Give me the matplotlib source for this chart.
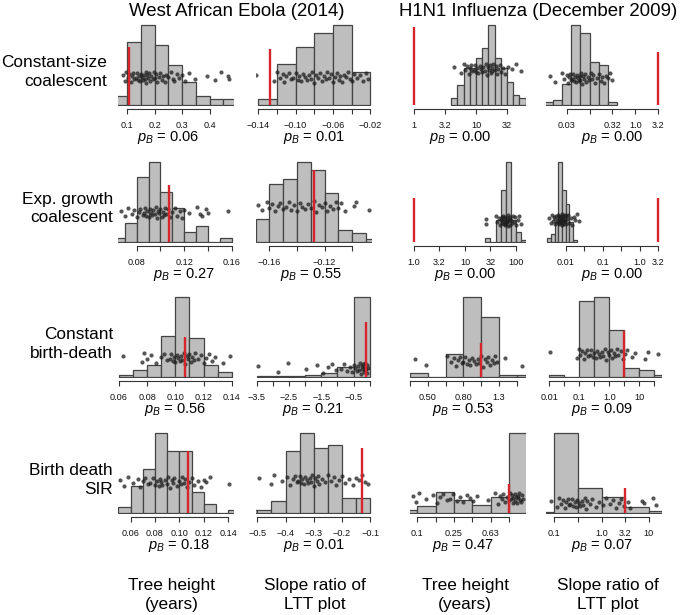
import numpy as np
import matplotlib.pyplot as plt

plt.rcParams['font.family'] = ['Liberation Sans', 'DejaVu Sans']
plt.rcParams['mathtext.fontset'] = 'custom'
plt.rcParams['mathtext.it'] = 'Liberation Sans:italic'
plt.rcParams['mathtext.rm'] = 'Liberation Sans'

datasets = ['West African Ebola (2014)', 'H1N1 Influenza (December 2009)']
models = ['Constant-size\ncoalescent', 'Exp. growth\ncoalescent', 'Constant\nbirth-death', 'Birth death\nSIR']
stats = ['Tree height\n(years)', 'Slope ratio of\nLTT plot', 'Tree height\n(years)', 'Slope ratio of\nLTT plot']

# observed values (columns 3 and 4 are log10)
observed = [0.107, -0.128, 0.0, 0.5]

p_values = [0.06, 0.01, 0.00, 0.00,
            0.27, 0.55, 0.00, 0.00,
            0.56, 0.21, 0.53, 0.09,
            0.18, 0.01, 0.47, 0.07]

# histogram of simulated statistics: first bin edge, bin width, counts
bin_start = [0.05, -0.14, 0.6, -2.0,
             0.06, -0.17, 1.4, -2.5,
             0.06, -3.5, -0.4, -2.0,
             0.05, -0.55, -1.2, -1.5]
bin_width = [0.05, 0.02, 0.1, 0.2,
             0.01, 0.01, 0.1, 0.1,
             0.01, 0.5, 0.1, 0.5,
             0.01, 0.05, 0.2, 0.5]
counts = [[3, 22, 28, 21, 14, 8, 3, 2, 2],
          [2, 15, 21, 26, 29, 12],
          [2, 6, 11, 11, 14, 17, 24, 14, 11, 7, 3, 2],
          [1, 2, 8, 30, 27, 16, 15, 1],
          [1, 6, 21, 26, 16, 11, 3, 5, 0, 1],
          [8, 20, 22, 28, 25, 17, 4, 3, 1],
          [2, 0, 11, 26, 40, 11, 5, 1],
          [2, 4, 10, 40, 26, 19, 10, 1],
          [1, 3, 5, 17, 33, 16, 5, 2],
          [1, 1, 1, 2, 4, 10, 84],
          [2, 0, 13, 45, 34, 1, 1],
          [1, 0, 34, 36, 21, 4, 3, 1],
          [2, 9, 15, 27, 21, 21, 7, 3, 0, 1],
          [1, 1, 4, 20, 26, 21, 22, 5, 5],
          [2, 5, 16, 10, 6, 12, 60],
          [1, 70, 22, 14, 5, 2]]

# simulated values shown as dots
sim_points = [
    [0.085, 0.09, 0.095, 0.102, 0.108, 0.112, 0.118, 0.12, 0.125, 0.13, 0.135, 0.138, 0.142, 0.146, 0.15,
     0.153, 0.157, 0.16, 0.163, 0.167, 0.17, 0.173, 0.176, 0.18, 0.184, 0.188, 0.192, 0.196, 0.2, 0.205,
     0.21, 0.215, 0.22, 0.225, 0.23, 0.236, 0.242, 0.25, 0.258, 0.265, 0.272, 0.28, 0.29, 0.3, 0.312,
     0.325, 0.345, 0.39, 0.42, 0.44, 0.47, 0.468],
    [-0.142, -0.123, -0.12, -0.117, -0.114, -0.112, -0.11, -0.107, -0.105, -0.103, -0.1, -0.098, -0.096,
     -0.094, -0.092, -0.09, -0.088, -0.086, -0.084, -0.082, -0.08, -0.078, -0.076, -0.074, -0.072, -0.07,
     -0.068, -0.066, -0.064, -0.062, -0.06, -0.058, -0.056, -0.054, -0.052, -0.05, -0.048, -0.046, -0.044,
     -0.042, -0.04, -0.037, -0.034, -0.031, -0.028, -0.025, -0.022],
    [0.65, 0.75, 0.8, 0.83, 0.86, 0.88, 0.9, 0.92, 0.94, 0.96, 0.98, 1.0, 1.02, 1.04, 1.06, 1.08, 1.1, 1.12,
     1.14, 1.16, 1.18, 1.2, 1.21, 1.22, 1.24, 1.25, 1.26, 1.28, 1.3, 1.32, 1.34, 1.36, 1.38, 1.4, 1.43,
     1.47, 1.52, 1.58, 1.64, 1.73],
    [-1.86, -1.75, -1.6, -1.55, -1.5, -1.47, -1.44, -1.42, -1.4, -1.38, -1.36, -1.34, -1.32, -1.3, -1.28,
     -1.26, -1.24, -1.22, -1.2, -1.18, -1.16, -1.14, -1.12, -1.1, -1.07, -1.04, -1.01, -0.98, -0.95, -0.92,
     -0.88, -0.84, -0.8, -0.76, -0.72, -0.68, -0.64, -0.6, -0.56, -0.5],
    [0.067, 0.07, 0.073, 0.076, 0.078, 0.08, 0.082, 0.083, 0.085, 0.086, 0.087, 0.088, 0.089, 0.09, 0.091,
     0.092, 0.093, 0.094, 0.095, 0.096, 0.097, 0.098, 0.099, 0.1, 0.101, 0.102, 0.103, 0.104, 0.105, 0.106,
     0.108, 0.11, 0.112, 0.114, 0.116, 0.118, 0.12, 0.124, 0.131, 0.133, 0.135, 0.138, 0.14, 0.157],
    [-0.168, -0.165, -0.162, -0.16, -0.158, -0.156, -0.154, -0.152, -0.15, -0.148, -0.146, -0.144, -0.142,
     -0.14, -0.138, -0.136, -0.134, -0.132, -0.13, -0.128, -0.126, -0.124, -0.122, -0.12, -0.118, -0.116,
     -0.114, -0.112, -0.11, -0.108, -0.105, -0.099, -0.097, -0.088],
    [1.41, 1.42, 1.6, 1.63, 1.66, 1.68, 1.7, 1.72, 1.73, 1.74, 1.75, 1.76, 1.77, 1.78, 1.79, 1.8, 1.81, 1.82,
     1.83, 1.84, 1.85, 1.86, 1.87, 1.88, 1.89, 1.9, 1.92, 1.94, 1.96, 1.98, 2.0, 2.03, 2.06, 2.1],
    [-2.45, -2.4, -2.37, -2.34, -2.32, -2.3, -2.28, -2.26, -2.24, -2.22, -2.2, -2.19, -2.18, -2.17, -2.16,
     -2.15, -2.14, -2.13, -2.12, -2.11, -2.1, -2.09, -2.08, -2.07, -2.06, -2.05, -2.04, -2.03, -2.02, -2.0,
     -1.98, -1.96, -1.93, -1.9, -1.86, -1.82, -1.78, -1.74, -1.7, -1.64],
    [0.0626, 0.076, 0.078, 0.08, 0.083, 0.086, 0.09, 0.092, 0.094, 0.096, 0.097, 0.098, 0.099, 0.1, 0.101,
     0.102, 0.103, 0.104, 0.105, 0.106, 0.107, 0.108, 0.109, 0.11, 0.111, 0.112, 0.113, 0.114, 0.116,
     0.118, 0.12, 0.122, 0.124, 0.126, 0.128, 0.134, 0.139],
    [-3.45, -2.85, -2.53, -1.98, -1.63, -1.45, -1.3, -1.16, -1.03, -0.9, -0.8, -0.7, -0.6, -0.55, -0.5,
     -0.45, -0.4, -0.36, -0.33, -0.3, -0.27, -0.25, -0.23, -0.21, -0.19, -0.17, -0.15, -0.13, -0.11,
     -0.09, -0.07, -0.05],
    [-0.37, -0.31, -0.19, -0.17, -0.15, -0.14, -0.13, -0.12, -0.11, -0.1, -0.09, -0.08, -0.07, -0.06, -0.05,
     -0.04, -0.03, -0.02, -0.01, 0.0, 0.01, 0.02, 0.03, 0.04, 0.05, 0.06, 0.07, 0.08, 0.09, 0.135, 0.228],
    [-1.96, -1.08, -1.02, -0.96, -0.9, -0.85, -0.8, -0.75, -0.7, -0.65, -0.6, -0.55, -0.5, -0.45, -0.4,
     -0.35, -0.3, -0.25, -0.2, -0.15, -0.1, -0.05, 0.0, 0.05, 0.1, 0.15, 0.2, 0.25, 0.3, 0.38, 0.45, 0.52,
     0.58, 0.75, 0.86, 1.19, 1.3, 1.63],
    [0.051, 0.055, 0.058, 0.062, 0.066, 0.068, 0.07, 0.072, 0.074, 0.076, 0.078, 0.08, 0.082, 0.083, 0.084,
     0.085, 0.086, 0.088, 0.09, 0.091, 0.092, 0.094, 0.095, 0.096, 0.098, 0.1, 0.101, 0.102, 0.104, 0.105,
     0.106, 0.108, 0.11, 0.112, 0.115, 0.118, 0.12, 0.122, 0.125, 0.141],
    [-0.493, -0.45, -0.44, -0.413, -0.395, -0.385, -0.375, -0.368, -0.36, -0.355, -0.35, -0.345, -0.34,
     -0.335, -0.33, -0.325, -0.32, -0.315, -0.31, -0.305, -0.3, -0.295, -0.29, -0.285, -0.28, -0.27, -0.26,
     -0.25, -0.24, -0.23, -0.22, -0.21, -0.2, -0.19, -0.175, -0.16, -0.15, -0.14, -0.13, -0.12, -0.107],
    [-1.043, -1.014, -0.978, -0.905, -0.825, -0.782, -0.752, -0.716, -0.68, -0.643, -0.607, -0.571, -0.534,
     -0.498, -0.462, -0.425, -0.389, -0.345, -0.226, -0.153, -0.116, -0.098, -0.08, -0.062, -0.04, -0.025,
     0.0, 0.011, 0.02, 0.029, 0.04, 0.047, 0.06, 0.065, 0.08, 0.084, 0.1, 0.102, 0.11, 0.12, 0.13, 0.138,
     0.156],
    [-1.076, -0.95, -0.9, -0.86, -0.82, -0.78, -0.75, -0.72, -0.69, -0.66, -0.63, -0.6, -0.57, -0.54, -0.51,
     -0.48, -0.45, -0.42, -0.39, -0.36, -0.33, -0.3, -0.25, -0.2, -0.12, -0.05, 0.02, 0.1, 0.17, 0.24, 0.3,
     0.36, 0.42, 0.48, 0.55, 0.6, 0.85, 0.9, 1.09, 1.16],
]

# dot jitter (fraction of spread)
jitter = [0.3, -0.7, 0.9, -0.2, 0.5, -0.9, 0.1, 0.7, -0.4, -0.1, 0.8, -0.6, 0.2, -0.8, 0.6, 0.0, -0.5,
          0.4, -0.3, 1.0, -1.0, 0.35, -0.15, 0.65, -0.75, 0.15, -0.45, 0.85, -0.25, 0.55, -0.85, 0.05,
          0.75, -0.55, 0.25, -0.95, 0.45, -0.05, 0.95, -0.35, -0.65, 0.6, -0.1, 0.3, -0.8, 0.7, -0.4,
          0.1, -0.6, 0.9, -0.3, 0.2, -0.9, 0.5, 0.0, -0.7, 0.8, -0.2, 0.4, -0.5]

ticks = [[0.1, 0.2, 0.3, 0.4],
         [-0.14, -0.12, -0.10, -0.08, -0.06, -0.04, -0.02],
         [0, 0.5, 1, 1.5],
         [-1.5, -1, -0.5, 0, 0.5],
         [0.08, 0.10, 0.12, 0.14, 0.16],
         [-0.16, -0.14, -0.12, -0.10],
         [0, 0.5, 1, 1.5, 2],
         [-2, -1.5, -1, -0.5, 0, 0.5],
         [0.06, 0.08, 0.10, 0.12, 0.14],
         [-3.5, -3, -2.5, -2, -1.5, -1, -0.5, 0],
         [-0.4, -0.3, -0.2, -0.1, 0, 0.1, 0.2],
         [-2, -1.5, -1, -0.5, 0, 0.5, 1, 1.5],
         [0.06, 0.08, 0.10, 0.12, 0.14],
         [-0.5, -0.4, -0.3, -0.2, -0.1],
         [-1, -0.8, -0.6, -0.4, -0.2, 0],
         [-1, -0.5, 0, 0.5, 1]]
tick_labels = [['0.1', '0.2', '0.3', '0.4'],
               ['\u22120.14', '', '\u22120.10', '', '\u22120.06', '', '\u22120.02'],
               ['1', '3.2', '10', '32'],
               ['0.03', '', '0.32', '1.0', '3.2'],
               ['0.08', '', '0.12', '', '0.16'],
               ['\u22120.16', '', '\u22120.12', ''],
               ['1.0', '3.2', '10', '32', '100'],
               ['0.01', '', '0.1', '', '1.0', '3.2'],
               ['0.06', '0.08', '0.10', '0.12', '0.14'],
               ['\u22123.5', '', '\u22122.5', '', '\u22121.5', '', '\u22120.5', ''],
               ['', '0.50', '', '0.80', '', '1.3', ''],
               ['0.01', '', '0.1', '', '1.0', '', '10', ''],
               ['0.06', '0.08', '0.10', '0.12', '0.14'],
               ['\u22120.5', '\u22120.4', '\u22120.3', '\u22120.2', '\u22120.1'],
               ['0.1', '', '0.25', '', '0.63', ''],
               ['0.1', '', '1.0', '3.2', '10']]

# layout (pixels)
xlims = [(0.0661, 0.489), (-0.1425, -0.0182), (-0.0645, 1.806), (-1.952, 0.581),
         (0.0643, 0.1618), (-0.1697, -0.0856), (-0.078, 2.196), (-2.532, 0.600),
         (0.0593, 0.1416), (-3.522, 0.072), (-0.393, 0.252), (-2.11, 1.757),
         (0.0497, 0.1448), (-0.5046, -0.0939), (-1.08, 0.185), (-1.175, 1.277)]
col_left = [118, 256, 410, 546]
row_base = [105, 241.5, 377, 513]
dot_level = [28, 28, 36, 27, 29, 35, 21, 22, 19, 9, 16, 23, 31, 33, 15, 10]
red_height = [58, 56, 78, 53, 57, 72, 44, 44, 40, 55, 34, 46, 62, 65, 29, 25]
W, H = 680, 615
PW, PH = 116, 80

fig = plt.figure(figsize=(W / 100, H / 100), dpi=100)

for k in range(16):
    r, c = divmod(k, 4)
    base = row_base[r]
    ax = fig.add_axes([col_left[c] / W, (H - base - 1) / H, PW / W, (PH + 2) / H])
    cnt = counts[k]
    s = max(cnt) / PH
    edges = [bin_start[k] + i * bin_width[k] for i in range(len(cnt))]
    ax.bar(edges, cnt, width=bin_width[k], align='edge', color='#bebebe',
           edgecolor='#444444', linewidth=0.9, zorder=1)
    pts = sim_points[k]
    jy = [dot_level[k] * s + 5.5 * s * jitter[i % len(jitter)] for i in range(len(pts))]
    ax.scatter(pts, jy, s=9, color='#1e1e1e', alpha=0.75, linewidths=0, zorder=3)
    ax.plot([observed[c], observed[c]], [0, red_height[k] * s], color='#d7262b',
            linewidth=1.7, zorder=4, solid_capstyle='butt')
    ax.set_xlim(*xlims[k])
    ax.set_ylim(-1 * s, (PH + 1) * s)
    for side in ['top', 'right', 'left']:
        ax.spines[side].set_visible(False)
    ax.spines['bottom'].set_position(('outward', 2.4))
    ax.spines['bottom'].set_bounds(ticks[k][0], ticks[k][-1])
    ax.spines['bottom'].set_linewidth(0.8)
    ax.spines['bottom'].set_color('#333333')
    ax.set_yticks([])
    ax.set_xticks(ticks[k], tick_labels[k])
    ax.tick_params(axis='x', length=3.3, width=0.8, color='#333333', pad=5.2,
                   labelsize=6.6, labelcolor='#111111')
    xmid = (ticks[k][0] + ticks[k][-1]) / 2
    ax.annotate(r'$p_B$ = %.2f' % p_values[k], xy=(xmid, 0), xycoords=('data', 'axes fraction'),
                xytext=(0, -22.7), textcoords='offset points', ha='center', va='center',
                fontsize=10.5, annotation_clip=False)

fig.text(236.5 / W, 1 - 11 / H, datasets[0], ha='center', va='center', fontsize=13.4)
fig.text(538 / W, 1 - 11 / H, datasets[1], ha='center', va='center', fontsize=13.4)

row_label_right = [107, 113, 113, 113]
for r in range(4):
    fig.text(row_label_right[r] / W, 1 - (row_base[r] - 33) / H, models[r], ha='right',
             va='center', fontsize=12.4, linespacing=1.3)

stat_x = [171.5, 315, 465, 608]
for c in range(4):
    fig.text(stat_x[c] / W, 1 - 595 / H, stats[c], ha='center', va='center', fontsize=12.4,
             linespacing=1.3)

fig.savefig('out.png', dpi=100)
